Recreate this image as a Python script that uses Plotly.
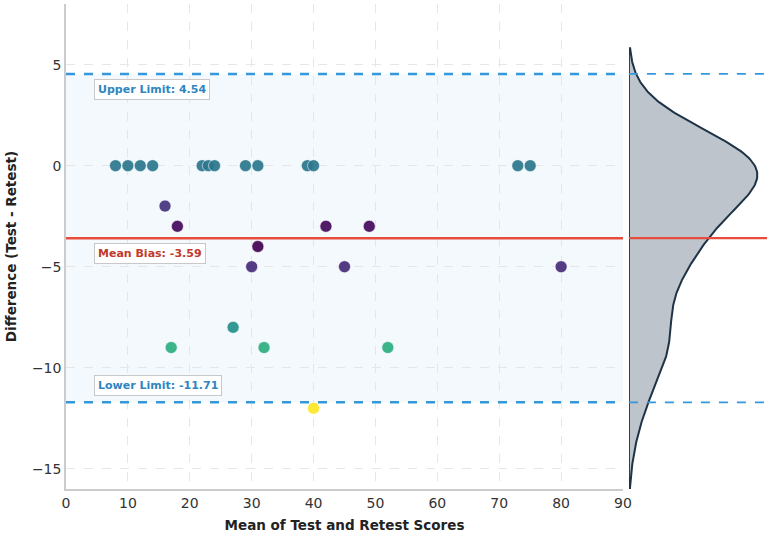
import numpy as np
import plotly.graph_objects as go

# Data
means = [8, 10, 12, 14, 22, 23, 24, 29, 31, 39, 40, 73, 75,
         16, 18, 42, 49, 31, 30, 45, 80, 27, 17, 32, 52, 40]
diffs = [0, 0, 0, 0, 0, 0, 0, 0, 0, 0, 0, 0, 0,
         -2, -3, -3, -3, -4, -5, -5, -5, -8, -9, -9, -9, -12]
mean_bias = -3.59
upper_loa = 4.54
lower_loa = -11.71
x_ticks = [0, 10, 20, 30, 40, 50, 60, 70, 80, 90]
y_ticks = [-15, -10, -5, 0, 5]

d = np.array(diffs, dtype=float)
colorvals = np.abs(d - mean_bias)

# KDE of differences (Scott's rule)
bw = d.std(ddof=1) * len(d) ** (-1 / 5)
grid = np.linspace(d.min() - 3 * bw, d.max() + 3 * bw, 400)
dens = np.exp(-0.5 * ((grid[:, None] - d[None, :]) / bw) ** 2).sum(axis=1)
dens /= (len(d) * bw * np.sqrt(2 * np.pi))

BLUE = "#3498db"
RED = "#e74c3c"
FONT = "DejaVu Sans"

fig = go.Figure()

fig.add_trace(go.Scatter(
    x=means, y=diffs, mode="markers", xaxis="x", yaxis="y",
    marker=dict(size=12, color=colorvals, colorscale="Viridis",
                opacity=0.92, line=dict(width=0.6, color="white")),
    showlegend=False, hoverinfo="x+y"))

poly_x = np.concatenate([dens, [0, 0]])
poly_y = np.concatenate([grid, [grid[-1], grid[0]]])
fig.add_trace(go.Scatter(
    x=poly_x, y=poly_y, mode="lines", fill="toself", xaxis="x2", yaxis="y2",
    fillcolor="rgba(149,160,172,0.62)", line=dict(color="#1f3347", width=2),
    showlegend=False, hoverinfo="skip"))

shapes = [
    dict(type="rect", xref="x", yref="y", x0=0, x1=90, y0=lower_loa, y1=upper_loa,
         fillcolor="rgba(52,152,219,0.06)", line=dict(width=0), layer="below"),
    dict(type="line", xref="x", yref="y", x0=0, x1=90, y0=upper_loa, y1=upper_loa,
         line=dict(color=BLUE, width=2.5, dash="dash")),
    dict(type="line", xref="x", yref="y", x0=0, x1=90, y0=lower_loa, y1=lower_loa,
         line=dict(color=BLUE, width=2.5, dash="dash")),
    dict(type="line", xref="x", yref="y", x0=0, x1=90, y0=mean_bias, y1=mean_bias,
         line=dict(color=RED, width=2.5)),
    dict(type="line", xref="x2 domain", yref="y2", x0=0, x1=1, y0=upper_loa, y1=upper_loa,
         line=dict(color=BLUE, width=1.8, dash="dash")),
    dict(type="line", xref="x2 domain", yref="y2", x0=0, x1=1, y0=lower_loa, y1=lower_loa,
         line=dict(color=BLUE, width=1.8, dash="dash")),
    dict(type="line", xref="x2 domain", yref="y2", x0=0, x1=1, y0=mean_bias, y1=mean_bias,
         line=dict(color=RED, width=2.2)),
]

def label(text, y, color):
    return dict(x=4.5, y=y, xref="x", yref="y", text=f"<b>{text}</b>",
                showarrow=False, xanchor="left", yanchor="middle",
                font=dict(family=FONT, size=11, color=color),
                bgcolor="white", bordercolor="#c8c8c8", borderwidth=1, borderpad=3)

annotations = [
    label(f"Upper Limit: {upper_loa:.2f}", upper_loa - 0.78, "#2e86c1"),
    label(f"Mean Bias: {mean_bias:.2f}", mean_bias - 0.77, "#c0392b"),
    label(f"Lower Limit: {lower_loa:.2f}", lower_loa + 0.81, "#2e86c1"),
]

fig.update_layout(
    width=767, height=535,
    margin=dict(l=66, r=0, t=4, b=46),
    paper_bgcolor="white", plot_bgcolor="white",
    font=dict(family=FONT, color="#333333"),
    shapes=shapes, annotations=annotations,
    xaxis=dict(domain=[0, 0.7946], range=[0, 90], tickvals=x_ticks,
               showgrid=True, gridcolor="#e6e6e6", griddash="dash", gridwidth=1,
               zeroline=False, showline=True, linecolor="#cccccc", linewidth=1.5,
               ticks="", tickfont=dict(size=14, color="#333333"),
               title=dict(text="<b>Mean of Test and Retest Scores</b>",
                          font=dict(size=13.5, color="#222222"), standoff=11),
               automargin=False),
    yaxis=dict(range=[-16, 8], tickvals=y_ticks,
               showgrid=True, gridcolor="#e6e6e6", griddash="dash", gridwidth=1,
               zeroline=False, showline=True, linecolor="#cccccc", linewidth=1.5,
               ticks="", tickfont=dict(size=14, color="#333333"),
               title=dict(text="<b>Difference (Test - Retest)</b>",
                          font=dict(size=13.5, color="#222222"), standoff=12),
               automargin=False),
    xaxis2=dict(domain=[0.803, 1], range=[0, dens.max() / 0.93], anchor="y2",
                visible=False),
    yaxis2=dict(range=[-16, 8], anchor="x2", matches="y", visible=False),
)

fig.write_html("out.html")
